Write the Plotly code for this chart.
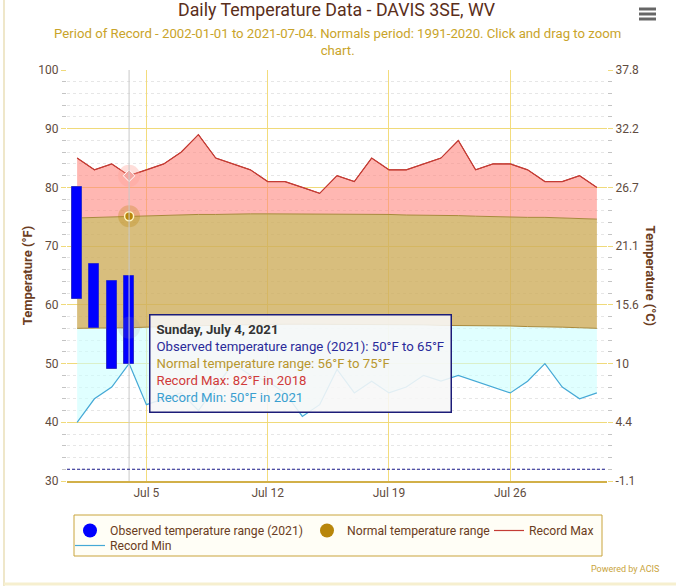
import pandas as pd
import plotly.graph_objects as go

# ---------------- data ----------------
START = "2021-07-01"
REC_MAX = [85, 83, 84, 82, 83, 84, 86, 89, 85, 84, 83, 81, 81, 80, 79, 82,
           81, 85, 83, 83, 84, 85, 88, 83, 84, 84, 83, 81, 81, 82, 80]
REC_MIN = [40, 44, 46, 50, 43, 44, 45, 42, 46, 50, 48, 47, 45, 41, 43, 49,
           45, 47, 45, 46, 48, 47, 48, 47, 46, 45, 47, 50, 46, 44, 45]
NORM_MAX = [74.8, 74.9, 75.0, 75.1, 75.2, 75.3, 75.3, 75.4, 75.4, 75.5, 75.5,
            75.5, 75.5, 75.5, 75.5, 75.5, 75.4, 75.4, 75.4, 75.3, 75.3, 75.2,
            75.2, 75.1, 75.0, 75.0, 74.9, 74.9, 74.8, 74.7, 74.6]
NORM_MIN = [56.0, 56.0, 56.0, 56.1, 56.2, 56.3, 56.4, 56.5, 56.5, 56.6, 56.6,
            56.7, 56.7, 56.7, 56.7, 56.7, 56.7, 56.7, 56.6, 56.6, 56.6, 56.5,
            56.5, 56.5, 56.4, 56.4, 56.3, 56.3, 56.2, 56.1, 56.0]
OBS_HIGH = [80, 67, 64, 65]
OBS_LOW = [61, 56, 49, 50]
REC_MAX_YEAR_HOVER = 2018
REC_MIN_YEAR_HOVER = 2021
HOVER_INDEX = 3          # July 4
FREEZING_F = 32
Y_TICKS_F = [30, 40, 50, 60, 70, 80, 90, 100]
X_TICKS = ["2021-07-05", "2021-07-12", "2021-07-19", "2021-07-26"]
X_TICK_TEXT = ["Jul 5", "Jul 12", "Jul 19", "Jul 26"]

dates = pd.date_range(START, periods=len(REC_MAX))
obs_dates = dates[:len(OBS_HIGH)]
hover_date = dates[HOVER_INDEX]

FONT = "Roboto, 'Noto Sans', sans-serif"
BROWN = "#6b3d22"
TICK_C = "#5f4c40"
GOLD = "#c9a43c"

# plot area in pixels (for paper-coordinate decorations)
PL, PR, PT, PB = 67, 607, 70, 481
def px(x):
    return (x - PL) / (PR - PL)
def py(y):
    return (PB - y) / (PB - PT)

def f2c(v):
    return (v - 32) * 5 / 9

def c_label(v):
    s = "%.1f" % f2c(v)
    return s[:-2] if s.endswith(".0") else s

fig = go.Figure()

# fills
fig.add_trace(go.Scatter(x=dates, y=REC_MIN, mode="lines", line=dict(width=0),
                         showlegend=False, hoverinfo="skip"))
fig.add_trace(go.Scatter(x=dates, y=NORM_MIN, mode="lines", fill="tonexty",
                         fillcolor="rgba(203,255,255,0.6)",
                         line=dict(color="#a88a3c", width=1),
                         showlegend=False, hoverinfo="skip"))
fig.add_trace(go.Scatter(x=dates, y=NORM_MAX, mode="lines", fill="tonexty",
                         fillcolor="rgba(206,174,92,0.8)",
                         line=dict(color="#a88a3c", width=1),
                         showlegend=False, hoverinfo="skip"))
fig.add_trace(go.Scatter(x=dates, y=REC_MAX, mode="lines", fill="tonexty",
                         fillcolor="rgba(255,135,127,0.6)",
                         line=dict(color="#c0392b", width=1),
                         showlegend=False, hoverinfo="skip"))

# legend entries (row 1)
fig.add_trace(go.Scatter(x=[None], y=[None], mode="markers",
                         name="Observed temperature range (2021)",
                         marker=dict(color="#0000ff", size=14, symbol="circle"),
                         legend="legend", legendwidth=192))
fig.add_trace(go.Scatter(x=[None], y=[None], mode="markers",
                         name="Normal temperature range",
                         marker=dict(color="#b8860b", size=14, symbol="circle"),
                         legend="legend", legendwidth=137))
fig.add_trace(go.Scatter(x=dates, y=REC_MAX, mode="lines", name="Record Max",
                         line=dict(color="#c43c35", width=1.2),
                         legend="legend", legendwidth=64))
# row 2
fig.add_trace(go.Scatter(x=dates, y=REC_MIN, mode="lines", name="Record Min",
                         line=dict(color="#45a9d6", width=1.2),
                         legend="legend2"))

# secondary axis (Celsius)
fig.add_trace(go.Scatter(x=[dates[0]], y=[f2c(Y_TICKS_F[0])], yaxis="y2",
                         mode="markers", marker=dict(opacity=0),
                         showlegend=False, hoverinfo="skip"))

# observed bars on overlay axis so they sit above the fills
fig.add_trace(go.Bar(x=obs_dates,
                     y=[h - l for h, l in zip(OBS_HIGH, OBS_LOW)],
                     base=OBS_LOW, width=0.58 * 86400000, yaxis="y3",
                     marker=dict(color="#0000ff", line=dict(color="#3030c8", width=1)),
                     showlegend=False, hoverinfo="skip"))

# hover state markers
fig.add_trace(go.Scatter(x=[hover_date, hover_date, hover_date],
                         y=[REC_MAX[HOVER_INDEX], NORM_MAX[HOVER_INDEX], NORM_MIN[HOVER_INDEX]],
                         mode="markers", yaxis="y3",
                         marker=dict(size=22, color=["rgba(255,160,150,0.35)",
                                                     "rgba(184,134,11,0.3)",
                                                     "rgba(150,150,150,0.15)"]),
                         showlegend=False, hoverinfo="skip"))
fig.add_trace(go.Scatter(x=[hover_date], y=[REC_MAX[HOVER_INDEX]], mode="markers",
                         yaxis="y3",
                         marker=dict(size=9, symbol="diamond", color="#f4a5a0",
                                     line=dict(color="white", width=1)),
                         showlegend=False, hoverinfo="skip"))
fig.add_trace(go.Scatter(x=[hover_date], y=[NORM_MAX[HOVER_INDEX]], mode="markers",
                         yaxis="y3",
                         marker=dict(size=9, symbol="circle", color="#b8860b",
                                     line=dict(color="#fff5c0", width=1.5)),
                         showlegend=False, hoverinfo="skip"))

# crosshair & freezing line
fig.add_shape(type="line", x0=hover_date, x1=hover_date, yref="paper", y0=0, y1=1,
              line=dict(color="#c8c8c8", width=1), layer="above")
fig.add_shape(type="line", xref="paper", x0=0, x1=1, y0=FREEZING_F, y1=FREEZING_F,
              line=dict(color="#1a1a8c", width=1.2, dash="3px,2px"), layer="above")

# tooltip
tip = ("<b>Sunday, July 4, 2021</b><br>"
       f"<span style='color:#2a2a9a'>Observed temperature range (2021): {OBS_LOW[HOVER_INDEX]}°F to {OBS_HIGH[HOVER_INDEX]}°F</span><br>"
       f"<span style='color:#b8962e'>Normal temperature range: {round(NORM_MIN[HOVER_INDEX])}°F to {round(NORM_MAX[HOVER_INDEX])}°F</span><br>"
       f"<span style='color:#d03a3a'>Record Max: {REC_MAX[HOVER_INDEX]}°F in {REC_MAX_YEAR_HOVER}</span><br>"
       f"<span style='color:#3a9fd0'>Record Min: {REC_MIN[HOVER_INDEX]}°F in {REC_MIN_YEAR_HOVER}</span>")
fig.add_annotation(x=hover_date, y=REC_MIN[HOVER_INDEX], text=tip, showarrow=False,
                   xanchor="left", yanchor="middle", xshift=20, align="left",
                   font=dict(family=FONT, size=13.2, color="#333333"),
                   bgcolor="rgba(247,247,247,0.88)", bordercolor="#1c1c78",
                   borderwidth=1.5, borderpad=6)

# titles
fig.add_annotation(xref="paper", yref="paper", x=0.5, y=py(10), yanchor="middle",
                   text="Daily Temperature Data - DAVIS 3SE, WV", showarrow=False,
                   font=dict(family=FONT, size=17.8, color="#5a2e1a"))
fig.add_annotation(xref="paper", yref="paper", x=0.5, y=py(41.5), yanchor="middle",
                   text="Period of Record - 2002-01-01 to 2021-07-04. Normals period: 1991-2020. Click and drag to zoom<br>chart.",
                   showarrow=False,
                   font=dict(family=FONT, size=13.2, color="#c9a42a"))

# right axis title
fig.add_annotation(xref="paper", yref="paper", x=1, y=0.5, xanchor="center",
                   yanchor="middle", xshift=43,
                   text="<b>Temperature (°C)</b>", textangle=90, showarrow=False,
                   font=dict(family=FONT, size=13, color=BROWN))
# powered by
fig.add_annotation(xref="paper", yref="paper", x=px(661), y=py(569), xanchor="right",
                   yanchor="middle", text="Powered by ACIS", showarrow=False,
                   font=dict(family=FONT, size=9, color=GOLD))

# legend box
fig.add_shape(type="rect", xref="paper", yref="paper",
              x0=px(74), x1=px(602), y0=py(515), y1=py(556),
              line=dict(color=GOLD, width=1), fillcolor="#fffef6", layer="below")

# hamburger icon
for yy in (9, 14, 19):
    fig.add_shape(type="line", xref="paper", yref="paper",
                  x0=px(639), x1=px(656), y0=py(yy), y1=py(yy),
                  line=dict(color="#666666", width=3))
# container border
fig.add_shape(type="line", xref="paper", yref="paper",
              x0=px(4), x1=px(4), y0=py(586), y1=py(0),
              line=dict(color="#eadfb8", width=1.5))
fig.add_shape(type="line", xref="paper", yref="paper",
              x0=px(4), x1=px(676), y0=py(584), y1=py(584),
              line=dict(color="#f6efcf", width=3))

LEG_FONT = dict(family=FONT, size=12.2, color=BROWN)
fig.update_layout(
    width=676, height=586,
    margin=dict(l=PL, r=676 - PR, t=PT, b=586 - PB, autoexpand=False),
    paper_bgcolor="white", plot_bgcolor="white",
    font=dict(family=FONT, color=TICK_C, size=12),
    bargap=0,
    showlegend=True,
    legend=dict(orientation="h", x=px(70), xanchor="left", y=py(516), yanchor="top",
                bgcolor="rgba(0,0,0,0)", borderwidth=0, font=LEG_FONT,
                traceorder="normal"),
    legend2=dict(orientation="h", x=px(70), xanchor="left", y=py(531), yanchor="top",
                 bgcolor="rgba(0,0,0,0)", borderwidth=0, font=LEG_FONT),
    xaxis=dict(type="date", automargin=False,
               range=["2021-06-30 10:00", "2021-07-31 14:00"],
               tickvals=X_TICKS, ticktext=X_TICK_TEXT,
               showgrid=True, gridcolor="#f3dc7c", gridwidth=1.3,
               showline=True, linecolor="#d2b048", linewidth=1.5,
               ticks="", tickfont=dict(size=12, color=TICK_C), zeroline=False),
    yaxis=dict(range=[Y_TICKS_F[0], Y_TICKS_F[-1]], tickvals=Y_TICKS_F, automargin=False,
               showgrid=True, gridcolor="#f0da7a", gridwidth=1.3,
               ticks="outside", ticklen=5, tickcolor="#f0da7a",
               minor=dict(dtick=2, showgrid=True, gridcolor="#e6e6e6", griddash="dot",
                          ticks="outside", ticklen=4, tickcolor="#c4c4c4"),
               title=dict(text="<b>Temperature (°F)</b>", standoff=2,
                          font=dict(family=FONT, size=13, color=BROWN)),
               zeroline=False, tickfont=dict(size=12, color=TICK_C)),
    yaxis2=dict(overlaying="y", side="right", automargin=False,
                range=[f2c(Y_TICKS_F[0]), f2c(Y_TICKS_F[-1])],
                tickvals=[f2c(v) for v in Y_TICKS_F],
                ticktext=[c_label(v) for v in Y_TICKS_F],
                showgrid=False, ticks="outside", ticklen=5, tickcolor="#f0da7a",
                minor=dict(tickvals=[f2c(v) for v in range(Y_TICKS_F[0], Y_TICKS_F[-1] + 1, 2)],
                           ticks="outside", ticklen=4, tickcolor="#c4c4c4"),
                zeroline=False, tickfont=dict(size=12, color=TICK_C)),
    yaxis3=dict(overlaying="y", range=[Y_TICKS_F[0], Y_TICKS_F[-1]], visible=False),
)

fig.write_html("out.html", config={"displayModeBar": False},
               post_script="document.body.style.margin='0';")
